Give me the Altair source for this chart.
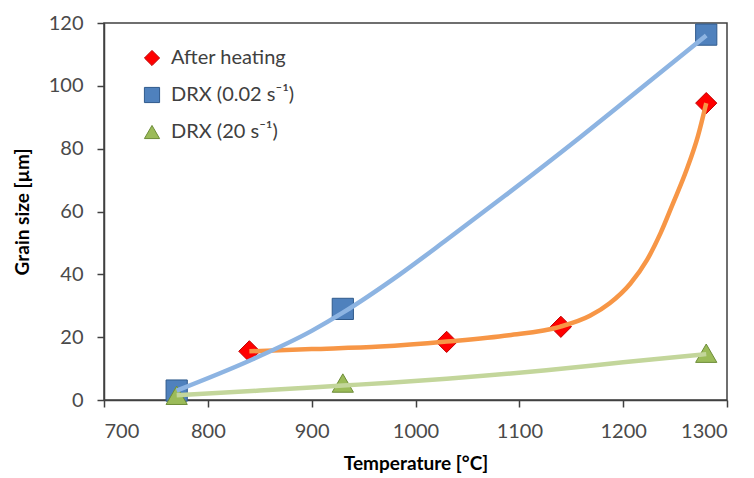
import altair as alt
import pandas as pd

# ---- data ----
series_names = ["After heating", "DRX (0.02 s⁻¹)", "DRX (20 s⁻¹)"]

heat_temp = [840, 1030, 1140, 1280]
heat_size = [15.5, 18.5, 23.3, 94.5]
slow_temp = [770, 930, 1280]
slow_size = [3.0, 29.0, 116.3]
fast_temp = [770, 930, 1280]
fast_size = [1.5, 5.4, 14.9]

# trend lines
heat_fit_temp = [840, 900, 966, 1030, 1090, 1139, 1168, 1187, 1207, 1223, 1236, 1248, 1261, 1272, 1280]
heat_fit_size = [15.5, 16.2, 17.0, 18.6, 20.6, 23.3, 26.8, 30.8, 37.1, 44.6, 53.1, 62.6, 73.2, 84.0, 94.5]
slow_fit_temp = [770, 840, 900, 930, 985, 1030, 1086, 1158, 1207, 1280]
slow_fit_size = [3.0, 12.5, 22.0, 27.8, 40.0, 51.0, 65.0, 83.5, 96.5, 116.0]
fast_fit_temp = [770, 850, 930, 975, 1030, 1126, 1200, 1280]
fast_fit_size = [1.5, 3.0, 4.6, 5.5, 6.8, 9.5, 12.0, 14.6]

x_ticks = [700, 800, 900, 1000, 1100, 1200, 1300]
y_ticks = [0, 20, 40, 60, 80, 100, 120]

# ---- tables ----
pts = pd.concat([
    pd.DataFrame({"series": series_names[0], "T": heat_temp, "d": heat_size}),
    pd.DataFrame({"series": series_names[1], "T": slow_temp, "d": slow_size}),
    pd.DataFrame({"series": series_names[2], "T": fast_temp, "d": fast_size}),
], ignore_index=True)

heat_fit = pd.DataFrame({"T": heat_fit_temp, "d": heat_fit_size})
slow_fit = pd.DataFrame({"T": slow_fit_temp, "d": slow_fit_size})
fast_fit = pd.DataFrame({"T": fast_fit_temp, "d": fast_fit_size})

x_enc = alt.X("T:Q", scale=alt.Scale(domain=[700, 1300], nice=False),
              axis=alt.Axis(values=x_ticks, format="d", title="Temperature [°C]", titlePadding=13))
y_enc = alt.Y("d:Q", scale=alt.Scale(domain=[0, 120], nice=False),
              axis=alt.Axis(values=y_ticks, format="d", title="Grain size [µm]", titlePadding=16))

points = alt.Chart(pts).mark_point(filled=True, opacity=1, strokeWidth=1, size=450).encode(
    x=x_enc,
    y=y_enc,
    color=alt.Color("series:N", scale=alt.Scale(domain=series_names,
                                                range=["#ff0000", "#4f81bd", "#9bbb59"]),
                    legend=alt.Legend(title=None)),
    stroke=alt.Stroke("series:N", scale=alt.Scale(domain=series_names,
                                                  range=["#c00000", "#2f5a8c", "#6d8c38"]),
                      legend=alt.Legend(title=None)),
    shape=alt.Shape("series:N", scale=alt.Scale(domain=series_names,
                                                range=["diamond", "square", "triangle-up"]),
                    legend=alt.Legend(title=None)),
)


def fit_line(df, colour):
    return alt.Chart(df).mark_line(strokeWidth=4.5, interpolate="monotone", color=colour).encode(
        x="T:Q", y="d:Q")


lines = [fit_line(heat_fit, "#f79646"), fit_line(slow_fit, "#8db4e2"), fit_line(fast_fit, "#c3d69b")]

chart = alt.layer(points, *lines).properties(
    width=623, height=377,
    autosize=alt.AutoSizeParams(type="none"),
    padding={"left": 104, "top": 23, "right": 27, "bottom": 78},
).configure(
    font="Lato",
).configure_view(
    stroke="#404040", strokeWidth=1.5,
).configure_axis(
    grid=False,
    domainColor="#404040", domainWidth=1.5,
    tickColor="#404040", tickWidth=1.5, tickSize=7,
    labelFont="Lato", labelFontSize=20, labelColor="#4a4a4a", labelPadding=14,
    titleFont="Lato", titleFontSize=19, titleFontWeight="bold", titleColor="#000000",
).configure_legend(
    orient="none", legendX=38, legendY=25,
    padding=0, symbolSize=230, symbolStrokeWidth=1,
    labelFont="Lato", labelFontSize=20, labelColor="#404040",
    labelOffset=9, rowPadding=17,
)

chart.save("out.html", embed_options={"renderer": "svg", "actions": False})
